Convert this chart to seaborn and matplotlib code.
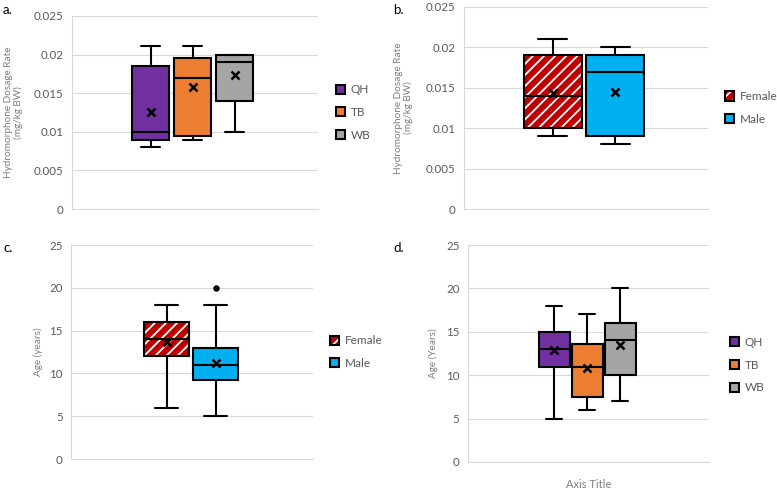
import matplotlib
matplotlib.use("Agg")
import numpy as np
import pandas as pd
import seaborn as sns
import matplotlib.pyplot as plt
from matplotlib.patches import Patch, PathPatch
from matplotlib.ticker import FuncFormatter

sns.set_theme(style="white")
plt.rcParams['font.family'] = ['Lato', 'DejaVu Sans']
plt.rcParams['hatch.linewidth'] = 1.3

# ---------------- data ----------------
# panel a: dosage by breed group
a_groups = ["QH", "TB", "WB"]
a_min = [0.008, 0.009, 0.010]
a_q1 = [0.009, 0.0095, 0.014]
a_med = [0.010, 0.017, 0.019]
a_q3 = [0.0185, 0.0195, 0.020]
a_max = [0.0211, 0.0211, 0.020]
a_mean = [0.0126, 0.0158, 0.0173]

# panel b: dosage by sex
b_groups = ["Female", "Male"]
b_min = [0.009, 0.008]
b_q1 = [0.010, 0.009]
b_med = [0.014, 0.017]
b_q3 = [0.019, 0.019]
b_max = [0.021, 0.020]
b_mean = [0.0144, 0.0145]

# panel c: age by sex
c_groups = ["Female", "Male"]
c_min = [6, 5]
c_q1 = [12, 9.25]
c_med = [14, 11]
c_q3 = [16, 13]
c_max = [18, 18]
c_mean = [13.7, 11.2]
c_outlier_group = ["Male"]
c_outlier_value = [20]

# panel d: age by breed group
d_groups = ["QH", "TB", "WB"]
d_min = [5, 6, 7]
d_q1 = [11, 7.5, 10]
d_med = [13, 11, 14]
d_q3 = [15, 13.6, 16]
d_max = [18, 17, 20]
d_mean = [12.9, 10.8, 13.5]

dose_ticks = [0, 0.005, 0.01, 0.015, 0.02, 0.025]
age_ticks = [0, 5, 10, 15, 20, 25]

breed_colors = ["#7030A0", "#ED7D31", "#A5A5A5"]
sex_colors = ["#C00000", "#00B0F0"]
hatched_groups = ["Female"]

TICK_C = "#595959"
LAB_C = "#7F7F7F"
GRID_C = "#D9D9D9"


def five_number_frame(groups, mins, q1s, meds, q3s, maxs):
    rows = []
    for g, lo, q1, md, q3, hi in zip(groups, mins, q1s, meds, q3s, maxs):
        for v in (lo, q1, md, q3, hi):
            rows.append({"group": g, "value": v})
    return pd.DataFrame(rows)


def panel(ax, groups, stats, means, colors, width, xlim, yticks, ylabel,
          ylab_x, leg_anchor, outliers=None, xlabel=None):
    df = five_number_frame(groups, *stats)
    pal = dict(zip(groups, colors))
    sns.boxplot(data=df, x="group", y="value", hue="group", order=groups,
                hue_order=groups, palette=pal, width=width, whis=(0, 100),
                linewidth=1.5, linecolor="black", saturation=1,
                showfliers=False, legend=False, ax=ax)
    sns.pointplot(x=groups, y=means, order=groups, color="black", markers="x",
                  linestyle="none", errorbar=None, markersize=6,
                  markeredgewidth=1.8, ax=ax)
    if outliers is not None:
        sns.pointplot(x=outliers[0], y=outliers[1], order=groups, color="black",
                      markers="o", linestyle="none", errorbar=None,
                      markersize=2.6, ax=ax)

    # hatching for the Female box
    for p in list(ax.patches):
        ext = p.get_path().get_extents()
        idx = int(round((ext.x0 + ext.x1) / 2))
        if 0 <= idx < len(groups) and groups[idx] in hatched_groups:
            p.set_hatch("///")
            p.set_edgecolor("white")
            p.set_linewidth(0)
            outline = PathPatch(p.get_path(), transform=p.get_transform(),
                                facecolor="none", edgecolor="black", lw=1.5,
                                zorder=p.get_zorder() + 0.1)
            ax.add_patch(outline)

    ax.set_xlim(*xlim)
    ax.set_ylim(yticks[0], yticks[-1])
    ax.set_yticks(yticks)
    ax.yaxis.set_major_formatter(FuncFormatter(lambda v, _: f"{v:g}"))
    ax.set_xticks([])
    ax.yaxis.grid(True, color=GRID_C, lw=0.8)
    ax.set_axisbelow(True)
    sns.despine(ax=ax)
    for s in ("left", "bottom"):
        ax.spines[s].set_color(GRID_C)
        ax.spines[s].set_linewidth(0.8)
    ax.tick_params(axis="y", length=0, pad=6, labelsize=8.3, labelcolor=TICK_C)
    ax.set_ylabel(ylabel, fontsize=7.2, color=LAB_C, linespacing=1.05)
    ax.yaxis.set_label_coords(ylab_x, 0.5)
    if xlabel:
        ax.set_xlabel(xlabel, fontsize=8, color=LAB_C, labelpad=12)
    else:
        ax.set_xlabel("")

    handles = []
    for g, c in zip(groups, colors):
        if g in hatched_groups:
            handles.append((Patch(facecolor=c, edgecolor="white", hatch="///", lw=0),
                            Patch(facecolor="none", edgecolor="black", lw=1.5)))
        else:
            handles.append(Patch(facecolor=c, edgecolor="black", lw=1.5))
    leg = ax.legend(handles, groups, loc="center left", bbox_to_anchor=leg_anchor,
                    frameon=False, fontsize=8.5, handlelength=0.8, handleheight=0.8,
                    handletextpad=0.5, labelspacing=1.0, borderpad=0,
                    borderaxespad=0)
    for t in leg.get_texts():
        t.set_color(TICK_C)


fig = plt.figure(figsize=(7.77, 4.92), dpi=100)
ax_a = fig.add_axes([0.0927, 0.575, 0.317, 0.3927])
ax_b = fig.add_axes([0.597, 0.575, 0.314, 0.411])
ax_c = fig.add_axes([0.0914, 0.067, 0.3115, 0.435])
ax_d = fig.add_axes([0.602, 0.061, 0.310, 0.441])

dose_label = "Hydromorphone Dosage Rate\n(mg/kg BW)"

panel(ax_a, a_groups, (a_min, a_q1, a_med, a_q3, a_max), a_mean, breed_colors,
      0.88, (-1.87, 3.99), dose_ticks, dose_label, -0.199, (1.07, 0.5))
panel(ax_b, b_groups, (b_min, b_q1, b_med, b_q3, b_max), b_mean, sex_colors,
      0.93, (-1.42, 2.48), dose_ticks, dose_label, -0.21, (1.07, 0.5))
panel(ax_c, c_groups, (c_min, c_q1, c_med, c_q3, c_max), c_mean, sex_colors,
      0.92, (-1.95, 2.99), age_ticks, "Age (years)", -0.116, (1.07, 0.5),
      outliers=(c_outlier_group, c_outlier_value))
panel(ax_d, d_groups, (d_min, d_q1, d_med, d_q3, d_max), d_mean, breed_colors,
      0.94, (-2.62, 4.68), age_ticks, "Age (Years)", -0.124, (1.087, 0.447),
      xlabel="Axis Title")

for x, y, s in [(3, 10, "a."), (393, 10, "b."), (3, 248, "c."), (393, 248, "d.")]:
    fig.text(x / 777, 1 - y / 492, s, fontsize=9.5, color="black", va="center")

fig.savefig("out.png", dpi=100)
